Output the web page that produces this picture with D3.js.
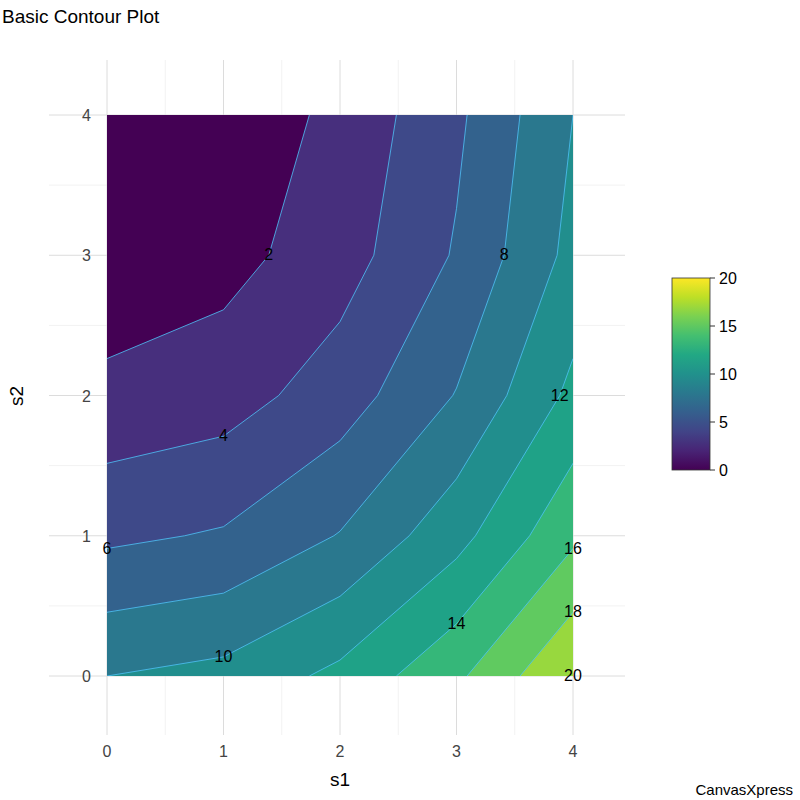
<!DOCTYPE html><html><head><script src="https://cdn.jsdelivr.net/npm/d3@7"></script>
<style>body{margin:0;background:#fff}text{font-family:Arial,"Liberation Sans",sans-serif}</style></head><body>
<svg id="c" width="800" height="800"></svg>
<script>
const s1 = [0,1,2,3,4];
const s2 = [0,1,2,3,4];
// z values, rows = s2 (0..4), cols = s1 (0..4)
const zRows = [
 [10.0,10.6,12.5,15.6,20.0],
 [5.6,6.2,8.1,11.3,15.6],
 [2.5,3.1,5.0,8.1,12.5],
 [0.6,1.3,3.1,6.2,10.6],
 [0.0,0.6,2.5,5.6,10.0]
];
const levels = [0,2,4,6,8,10,12,14,16,18,20];
const labels = [
 {level:2,row:3},{level:4,col:1},{level:6,col:0},{level:8,row:3},{level:10,col:1},
 {level:12,row:2},{level:14,col:3},{level:16,col:4},{level:18,col:4},{level:20,col:4}
];
const cbTicks = [0,5,10,15,20];

const svg = d3.select("#c");
const x = d3.scaleLinear().domain([0,4]).range([107,573]);
const y = d3.scaleLinear().domain([0,4]).range([676,115]);
const col = v => d3.interpolateViridis(v===0?0:Math.min(1,(v+1)/22.5));

svg.append("text").attr("x",2).attr("y",23).attr("font-size",19).text("Basic Contour Plot");
svg.append("text").attr("x",793).attr("y",795).attr("text-anchor","end").attr("font-size",15).text("CanvasXpress");

const g = svg.append("g");
const minor=[0.5,1.5,2.5,3.5];
minor.forEach(v=>{
  g.append("line").attr("x1",x(v)).attr("x2",x(v)).attr("y1",60).attr("y2",735).attr("stroke","#f2f2f2");
  g.append("line").attr("y1",y(v)).attr("y2",y(v)).attr("x1",49).attr("x2",625).attr("stroke","#f2f2f2");
});
s1.forEach(v=>g.append("line").attr("x1",x(v)).attr("x2",x(v)).attr("y1",60).attr("y2",735).attr("stroke","#dcdcdc"));
s2.forEach(v=>g.append("line").attr("y1",y(v)).attr("y2",y(v)).attr("x1",49).attr("x2",625).attr("stroke","#dcdcdc"));

svg.append("clipPath").attr("id","cp").append("rect").attr("x",x(0)).attr("y",y(4)).attr("width",x(4)-x(0)).attr("height",y(0)-y(4));
const vals=[]; for(let j=0;j<5;j++) for(let i=0;i<5;i++) vals.push(zRows[j][i]);
const contours = d3.contours().size([5,5]).thresholds(levels)(vals);
const proj = d3.geoTransform({point:function(px,py){this.stream.point(x(px-0.5),y(py-0.5));}});
const path = d3.geoPath(proj);
const cg = svg.append("g").attr("clip-path","url(#cp)");
cg.selectAll("path.f").data(contours).join("path").attr("d",path)
  .attr("fill",d=>col(d.value)).attr("stroke","none");
cg.selectAll("path.l").data(contours.filter(d=>d.value>0)).join("path").attr("d",path)
  .attr("fill","none").attr("stroke","#4fc3f7").attr("stroke-width",0.8);

function labelPos(L){
  if(L.col!==undefined){const c=L.col; for(let j=0;j<4;j++){const a=zRows[j][c],b=zRows[j+1][c];
    if((a-L.level)*(b-L.level)<=0 && a!==b) return [c, j+(L.level-a)/(b-a)];}}
  else {const r=L.row; for(let i=0;i<4;i++){const a=zRows[r][i],b=zRows[r][i+1];
    if((a-L.level)*(b-L.level)<=0 && a!==b) return [i+(L.level-a)/(b-a), r];}}
  return [4,0];
}
labels.forEach(L=>{const p=labelPos(L);
  svg.append("text").attr("x",x(p[0])).attr("y",y(p[1])+5).attr("text-anchor","middle").attr("font-size",16).text(L.level);});

s1.forEach(v=>svg.append("text").attr("x",x(v)).attr("y",757).attr("text-anchor","middle").attr("font-size",16).attr("fill","#444").text(v));
s2.forEach(v=>svg.append("text").attr("x",91).attr("y",y(v)+6).attr("text-anchor","end").attr("font-size",16).attr("fill","#444").text(v));
svg.append("text").attr("x",340).attr("y",786).attr("text-anchor","middle").attr("font-size",19).text("s1");
svg.append("text").attr("transform","translate(23,396) rotate(-90)").attr("text-anchor","middle").attr("font-size",19).text("s2");

const cy = d3.scaleLinear().domain([0,20]).range([470,278]);
const grad = svg.append("defs").append("linearGradient").attr("id","gr").attr("x1",0).attr("x2",0).attr("y1",1).attr("y2",0);
d3.range(0,1.01,0.1).forEach(t=>grad.append("stop").attr("offset",t).attr("stop-color",d3.interpolateViridis(t)));
svg.append("rect").attr("x",672).attr("y",278).attr("width",38).attr("height",192).attr("fill","url(#gr)").attr("stroke","#333").attr("stroke-width",0.8);
cbTicks.forEach(v=>{
  svg.append("line").attr("x1",710).attr("x2",715).attr("y1",cy(v)).attr("y2",cy(v)).attr("stroke","#333");
  svg.append("text").attr("x",719).attr("y",cy(v)+6).attr("font-size",16).text(v);});
</script></body></html>
